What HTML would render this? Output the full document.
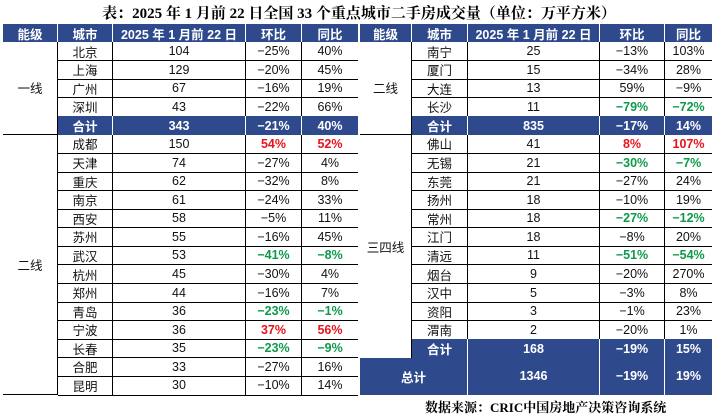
<!DOCTYPE html>
<html><head><meta charset="utf-8">
<style>
body{margin:0;width:718px;height:416px;background:#fff;position:relative;overflow:hidden;font-family:"Liberation Sans","Noto Sans CJK SC",sans-serif;}
.c{position:absolute;box-sizing:border-box;display:flex;align-items:center;justify-content:center;font-size:12.5px;color:#111;}
.h{background:#2f4a8c;color:#fff;font-weight:bold;font-size:12.5px;}
.b{border-right:1px solid #000;border-bottom:1px solid #000;}
.red{color:#e8141c;font-weight:bold}
.grn{color:#0e9a4a;font-weight:bold}
#title{position:absolute;left:0;width:718px;top:2px;text-align:center;font-size:15px;font-weight:bold;font-family:"Liberation Serif","Noto Serif CJK SC",serif;}
#src{position:absolute;left:425px;top:397px;font-size:13px;font-weight:bold;font-family:"Liberation Serif","Noto Serif CJK SC",serif;}
</style></head><body>
<div id="title">表：2025 年 1 月前 22 日全国 33 个重点城市二手房成交量（单位：万平方米）</div>
<div id="src">数据来源：CRIC中国房地产决策咨询系统</div>
<script>
const headers=['能级','城市','2025 年 1 月前 22 日','环比','同比'];
const leftRows=[['北京','104','-25%','40%'],['上海','129','-20%','45%'],['广州','67','-16%','19%'],['深圳','43','-22%','66%'],['合计','343','-21%','40%','T'],
['成都','150','54%r','52%r'],['天津','74','-27%','4%'],['重庆','62','-32%','8%'],['南京','61','-24%','33%'],['西安','58','-5%','11%'],['苏州','55','-16%','45%'],['武汉','53','-41%g','-8%g'],['杭州','45','-30%','4%'],['郑州','44','-16%','7%'],['青岛','36','-23%g','-1%g'],['宁波','36','37%r','56%r'],['长春','35','-23%g','-9%g'],['合肥','33','-27%','16%'],['昆明','30','-10%','14%']];
const rightRows=[['南宁','25','-13%','103%'],['厦门','15','-34%','28%'],['大连','13','59%','-9%'],['长沙','11','-79%g','-72%g'],['合计','835','-17%','14%','T'],
['佛山','41','8%r','107%r'],['无锡','21','-30%g','-7%g'],['东莞','21','-27%','24%'],['扬州','18','-10%','19%'],['常州','18','-27%g','-12%g'],['江门','18','-8%','20%'],['清远','11','-51%g','-54%g'],['烟台','9','-20%','270%'],['汉中','5','-3%','8%'],['资阳','3','-1%','23%'],['渭南','2','-20%','1%'],['合计','168','-19%','15%','T']];
const grandTotal=['总计','1346','-19%','19%'];
const RH=18.58, TOP=42;
function cell(x,y,w,h,txt,cls){
 const d=document.createElement('div');d.className='c '+(cls||'');
 d.style.left=x+'px';d.style.top=y+'px';d.style.width=w+'px';d.style.height=h+'px';
 let t=txt;
 if(t.endsWith('r')){t=t.slice(0,-1);d.classList.add('red');}
 else if(t.endsWith('g')){t=t.slice(0,-1);d.classList.add('grn');}
 d.textContent=t.replace(/^-/,'−');
 
 
 document.body.appendChild(d);return d;}
function table(cols,rows,groups){
 for(let i=0;i<5;i++){const d=cell(cols[i],24,cols[i+1]-cols[i],18,headers[i],'h');d.style.borderRight=i<4?'1px solid #fff':'none';
 }
 rows.forEach((r,k)=>{const y=TOP+k*RH;const tot=r[4]==='T';
  for(let j=0;j<4;j++){const d=cell(cols[j+1],y,cols[j+2]-cols[j+1],RH+0.5,r[j],tot?'h':'b');
   if(!tot&&j===3)d.style.borderRight='none';
   if(tot&&j<3)d.style.borderRight='1px solid #fff';}
 });
 groups.forEach(g=>{const d=cell(cols[0],TOP+g[1]*RH,cols[1]-cols[0],g[2]*RH,g[0],'');
  
  if(g[3])d.style.borderBottom='1px solid #000';
  d.style.borderRight='1px solid #000';});
}
const L=[3,58,113,246,302,358], R=[360,412,468,600,665,712];
table(L,leftRows,[['一线',0,5,true],['二线',5,14,true]]);
table(R,rightRows,[['二线',0,5,true],['三四线',5,12,false]]);
const gy=TOP+17*RH;
const g0=cell(R[0],gy,R[2]-R[0],2*RH,grandTotal[0],'h');g0.style.borderRight='1px solid #fff';
for(let j=1;j<4;j++){const d=cell(R[j+1],gy,R[j+2]-R[j+1],2*RH,grandTotal[j],'h');if(j<3)d.style.borderRight='1px solid #fff';}
</script>
</body></html>
